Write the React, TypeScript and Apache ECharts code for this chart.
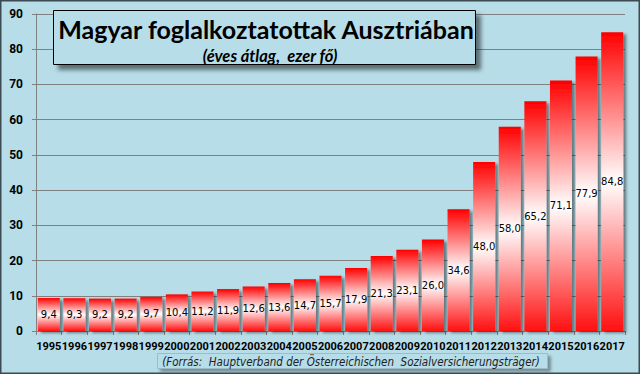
import React, { useEffect, useRef } from "react";
import * as echarts from "echarts";

const years = ["1995","1996","1997","1998","1999","2000","2001","2002","2003","2004","2005","2006","2007","2008","2009","2010","2011","2012","2013","2014","2015","2016","2017"];
const values = [9.4, 9.3, 9.2, 9.2, 9.7, 10.4, 11.2, 11.9, 12.6, 13.6, 14.7, 15.7, 17.9, 21.3, 23.1, 26.0, 34.6, 48.0, 58.0, 65.2, 71.1, 77.9, 84.8];
const titleText = "Magyar foglalkoztatottak Ausztriában";
const subtitleText = "(éves átlag,  ezer fő)";
const sourceText = "(Forrás:  Hauptverband der Österreichischen  Sozialversicherungsträger)";

const BG = "#b7dde8";

export default function App() {
  const ref = useRef<HTMLDivElement>(null);
  useEffect(() => {
    document.body.style.margin = "0";
    const chart = echarts.init(ref.current!, null, { renderer: "svg" });
    chart.setOption({
      animation: false,
      backgroundColor: BG,
      grid: { left: 36, right: 15, top: 14, bottom: 43 },
      xAxis: {
        type: "category",
        data: years,
        axisLine: { lineStyle: { color: "#808080", width: 1 } },
        axisTick: { show: true, length: 4, lineStyle: { color: "#808080" } },
        axisLabel: {
          margin: 10,
          color: "#000",
          fontFamily: "Roboto",
          fontWeight: "bold",
          fontSize: 11,
          interval: 0,
        },
      },
      yAxis: {
        type: "value",
        min: 0,
        max: 90,
        interval: 10,
        axisLine: { show: true, lineStyle: { color: "#808080" } },
        axisTick: { show: true, length: 4, lineStyle: { color: "#808080" } },
        splitLine: { lineStyle: { color: "#808080", width: 1 } },
        axisLabel: {
          margin: 13,
          color: "#000",
          fontFamily: "Roboto",
          fontWeight: "bold",
          fontSize: 12,
        },
      },
      series: [
        {
          type: "bar",
          data: values,
          barCategoryGap: "14%",
          itemStyle: {
            color: new echarts.graphic.LinearGradient(0, 0, 0, 1, [
              { offset: 0, color: "#ff0000" },
              { offset: 0.5, color: "#ffffff" },
              { offset: 1, color: "#ff1010" },
            ]),
            shadowColor: "rgba(0,0,0,0.45)",
            shadowBlur: 3,
            shadowOffsetX: 3,
            shadowOffsetY: 2,
          },
          label: {
            show: true,
            position: "inside",
            color: "#000",
            fontFamily: "DejaVu Sans",
            fontSize: 10,
            formatter: (p: any) => p.value.toFixed(1).replace(".", ","),
          },
        },
      ],
      graphic: [
        {
          type: "rect",
          shape: { x: 0.5, y: 0.5, width: 639, height: 373 },
          style: { fill: "none", stroke: "#3c4a52", lineWidth: 2 },
          z: 100,
        },
        {
          type: "rect",
          shape: { x: 53.5, y: 10.5, width: 422, height: 54 },
          style: {
            fill: BG,
            stroke: "#000",
            lineWidth: 1,
            shadowColor: "rgba(0,0,0,0.5)",
            shadowBlur: 4,
            shadowOffsetX: 5,
            shadowOffsetY: 5,
          },
          z: 50,
        },
        {
          type: "text",
          x: 266,
          y: 29,
          style: {
            text: titleText,
            fontFamily: "Lato",
            fontWeight: "bold",
            fontSize: 25,
            fill: "#000",
            align: "center",
            verticalAlign: "middle",
          },
          z: 51,
        },
        {
          type: "text",
          x: 270,
          y: 56,
          style: {
            text: subtitleText,
            fontFamily: "Lato",
            fontWeight: "bold",
            fontStyle: "italic",
            fontSize: 16.5,
            fill: "#000",
            align: "center",
            verticalAlign: "middle",
          },
          z: 51,
        },
        {
          type: "rect",
          shape: { x: 157.5, y: 353.5, width: 390, height: 15 },
          style: {
            fill: BG,
            stroke: "#9fbcc6",
            lineWidth: 1,
            shadowColor: "rgba(0,0,0,0.35)",
            shadowBlur: 3,
            shadowOffsetX: 3,
            shadowOffsetY: 3,
          },
          z: 50,
        },
        {
          type: "text",
          x: 351,
          y: 362,
          style: {
            text: sourceText,
            fontFamily: "DejaVu Sans Condensed, DejaVu Sans",
            fontStyle: "italic",
            fontSize: 11.5,
            fill: "#222",
            align: "center",
            verticalAlign: "middle",
          },
          z: 51,
        },
      ],
    });
    return () => chart.dispose();
  }, []);
  return <div ref={ref} style={{ width: 640, height: 374 }} />;
}
